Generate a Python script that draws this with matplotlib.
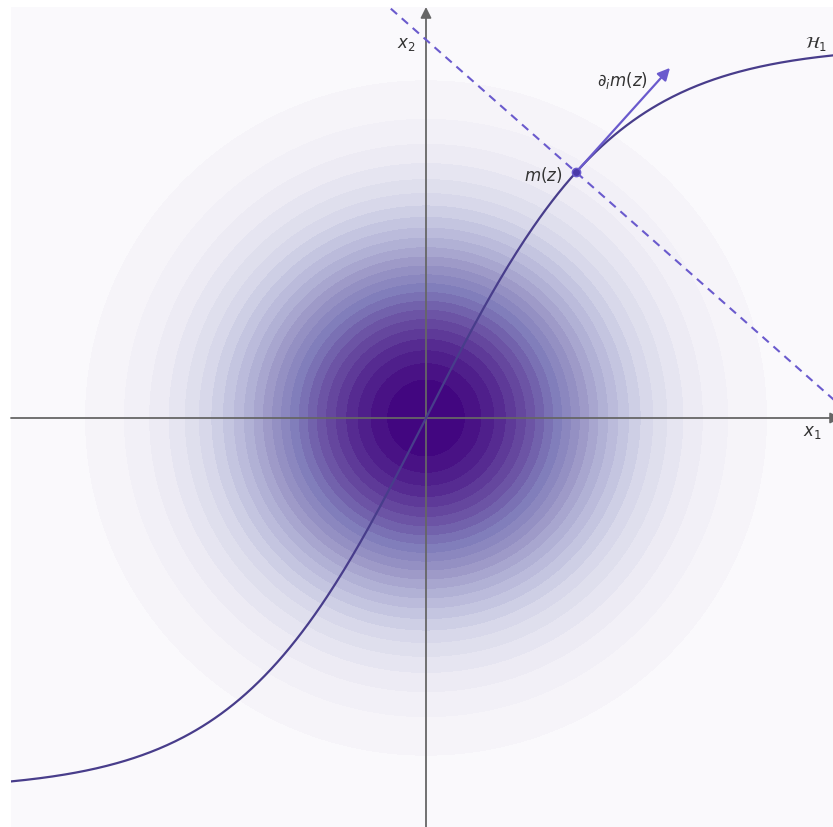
import numpy as np
import matplotlib.pyplot as plt

# curve H1: x2 = amp * tanh(rate * x1)
amp = 2.72
rate = 0.73
z_x1 = 1.085          # location of m(z) along x1
grad_len = 1.02       # length of the tangent arrow
sigma = 0.97
n_levels = 25
lim = 3.0

labels = {"x1": r"$x_1$", "x2": r"$x_2$", "H": r"$\mathcal{H}_1$",
          "m": r"$m(z)$", "dm": r"$\partial_i m(z)$"}

fig = plt.figure(figsize=(8.33, 8.27), dpi=100)
ax = fig.add_axes([11 / 833, -2 / 827, 830 / 833, 822 / 827])

# gaussian density
g = np.linspace(-lim, lim, 500)
X, Y = np.meshgrid(g, g)
Z = np.exp(-(X**2 + Y**2) / (2 * sigma**2))
ax.contourf(X, Y, Z, levels=np.linspace(0, 1, n_levels + 1), cmap="Purples")

# axes with arrows
axis_col = "#666666"
for end in [(lim, 0), (0, lim)]:
    ax.annotate("", xy=end, xytext=(-end[0], -end[1]),
                arrowprops=dict(arrowstyle="-|>", color=axis_col, lw=1.3,
                                mutation_scale=16, shrinkA=0, shrinkB=0),
                annotation_clip=False)

# the curve
xs = np.linspace(-lim, lim, 400)
ax.plot(xs, amp * np.tanh(rate * xs), color="#483d8b", lw=1.6, zorder=3)

# point m(z), its tangent and the normal (dashed) line
mz = np.array([z_x1, amp * np.tanh(rate * z_x1)])
slope = amp * rate / np.cosh(rate * z_x1) ** 2
t = np.array([1.0, slope]) / np.hypot(1.0, slope)
ax.plot(xs, mz[1] - (xs - mz[0]) / slope, color="#6a5acd", lw=1.5,
        ls=(0, (4, 3)), zorder=3)
ax.annotate("", xy=mz + grad_len * t, xytext=mz,
            arrowprops=dict(arrowstyle="-|>", color="#6a5acd", lw=1.6,
                            mutation_scale=18, shrinkA=0, shrinkB=0),
            zorder=4)
ax.plot(*mz, "o", ms=6, color="#4b3aa8", mec="#6a5acd", zorder=5)

txt = dict(color="#333333", fontsize=12)
ax.text(mz[0] - 0.1, mz[1] - 0.02, labels["m"], ha="right", va="center", **txt)
ax.text(1.42, 2.46, labels["dm"], ha="center", va="center", **txt)
ax.text(2.79, -0.1, labels["x1"], ha="center", va="center", **txt)
ax.text(-0.145, 2.73, labels["x2"], ha="center", va="center", **txt)
ax.text(2.82, 2.73, labels["H"], ha="center", va="center", **txt)

ax.set_xlim(-lim, lim)
ax.set_ylim(-lim, lim)
ax.axis("off")

fig.savefig("out.png", dpi=100)
